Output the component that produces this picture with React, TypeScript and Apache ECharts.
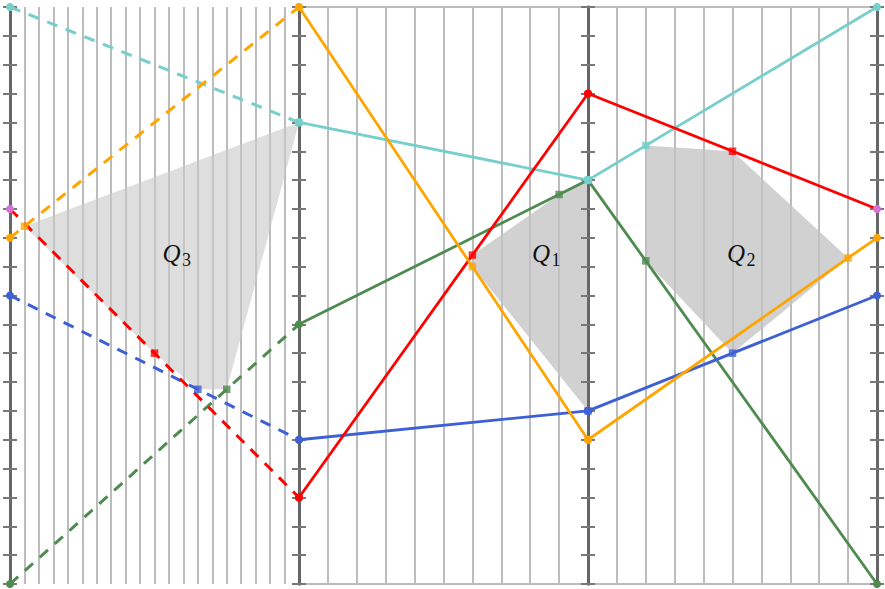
import { useEffect, useRef } from 'react';
import * as echarts from 'echarts';

// Values carried by each line on the four vertical axes (0 = bottom, 20 = top)
const axisMax = 20;
const tealValues = [20, 16, 14, 20];
const orangeValues = [12, 20, 5, 12];
const redValues = [13, 3, 17, 13];
const blueValues = [10, 5, 6, 10];
const greenValues = [0, 9, 14, 0];

// Vertical grid divisions between consecutive axes (left, middle, right panel)
const panelSteps = [20, 10, 10];

type LineKey = 'teal' | 'orange' | 'red' | 'blue' | 'green';

// Region corners: [grid division inside the panel, line the corner lies on]
const q3Vertices: [number, LineKey][] = [[1, 'orange'], [20, 'teal'], [15, 'green'], [13, 'blue'], [10, 'red']];
const q1Vertices: [number, LineKey][] = [[6, 'red'], [9, 'green'], [10, 'teal'], [10, 'blue'], [6, 'orange']];
const q2Vertices: [number, LineKey][] = [[2, 'teal'], [5, 'red'], [9, 'orange'], [5, 'blue'], [2, 'green']];
const regionVertices = [q3Vertices, q1Vertices, q2Vertices];
const regionSubscripts = ['3', '1', '2'];

const LINES: { key: LineKey; values: number[]; color: string; endColor: string }[] = [
  { key: 'green', values: greenValues, color: '#4f8a50', endColor: '#4f8a50' },
  { key: 'blue', values: blueValues, color: '#3d60d4', endColor: '#3d60d4' },
  { key: 'teal', values: tealValues, color: '#76cfcb', endColor: '#76cfcb' },
  { key: 'red', values: redValues, color: '#ff0000', endColor: '#d670d6' },
  { key: 'orange', values: orangeValues, color: '#ffa500', endColor: '#ffa500' },
];
const lineByKey = Object.fromEntries(LINES.map((l) => [l.key, l])) as Record<LineKey, (typeof LINES)[number]>;

const regionFills = ['rgba(202,202,202,0.62)', 'rgba(194,194,194,0.76)', 'rgba(194,194,194,0.76)'];

// layout
const W = 885;
const H = 589;
const LEFT = 10;
const TOP = 7;
const PANEL_W = 289;
const PLOT_H = 577;

const valueAt = (values: number[], panel: number, step: number) =>
  values[panel] + ((values[panel + 1] - values[panel]) * step) / panelSteps[panel];

function buildOption() {
  const grid: any[] = [];
  const xAxis: any[] = [];
  const yAxis: any[] = [];
  const series: any[] = [];

  // three panels carrying the grid lines and the lines
  panelSteps.forEach((steps, p) => {
    grid.push({ left: LEFT + PANEL_W * p, top: TOP, width: PANEL_W, height: PLOT_H, outerBoundsMode: 'none' });
    xAxis.push({
      gridIndex: p,
      type: 'value',
      min: 0,
      max: steps,
      interval: 1,
      axisLine: { show: false },
      axisTick: { show: false },
      axisLabel: { show: false },
      splitLine: { show: true, lineStyle: { color: '#bcbcbc', width: 2 } },
      z: 0,
    });
    yAxis.push({
      gridIndex: p,
      type: 'value',
      min: 0,
      max: axisMax,
      interval: axisMax,
      axisLine: { show: false },
      axisTick: { show: false },
      axisLabel: { show: false },
      splitLine: { show: p > 0, lineStyle: { color: '#bcbcbc', width: 2 } },
      z: 0,
    });
  });

  // four zero-width grids holding the dark vertical axes, ticked on both sides
  for (let k = 0; k < 4; k++) {
    const g = grid.length;
    grid.push({ left: LEFT + PANEL_W * k, top: TOP, width: 0, height: PLOT_H, outerBoundsMode: 'none' });
    xAxis.push({ gridIndex: g, type: 'value', min: 0, max: 1, show: false });
    (['left', 'right'] as const).forEach((pos) => {
      yAxis.push({
        gridIndex: g,
        position: pos,
        type: 'value',
        min: 0,
        max: axisMax,
        interval: 1,
        axisLine: { show: true, onZero: false, lineStyle: { color: '#666666', width: 3 } },
        axisTick: { show: true, inside: false, length: 7, lineStyle: { color: '#777777', width: 2 } },
        axisLabel: { show: false },
        splitLine: { show: false },
        z: 3,
      });
    });
  }

  // shaded regions
  regionVertices.forEach((verts, p) => {
    const pts = verts.map(([s, k]) => [s, valueAt(lineByKey[k].values, p, s)]);
    series.push({
      type: 'custom',
      coordinateSystem: 'cartesian2d',
      xAxisIndex: p,
      yAxisIndex: p,
      z: 1,
      silent: true,
      clip: false,
      data: [[0, 0]],
      renderItem: (_params: any, api: any) => ({
        type: 'polygon',
        shape: { points: pts.map((pt) => api.coord(pt)) },
        style: { fill: regionFills[p] },
      }),
    });
  });

  // the lines, dashed across the left panel
  panelSteps.forEach((steps, p) => {
    LINES.forEach((line) => {
      series.push({
        type: 'line',
        xAxisIndex: p,
        yAxisIndex: p,
        z: 4,
        silent: true,
        clip: false,
        symbol: 'circle',
        symbolSize: 8,
        showSymbol: true,
        lineStyle: { color: line.color, width: p === 0 ? 3 : 2.8, type: p === 0 ? [11, 9] : 'solid' },
        itemStyle: { color: line.color, borderWidth: 0 },
        data: [
          { value: [0, line.values[p]], itemStyle: { color: p === 0 ? line.endColor : line.color } },
          { value: [steps, line.values[p + 1]], itemStyle: { color: p === 2 ? line.endColor : line.color } },
        ],
      });
    });
  });

  // corner markers of the regions
  regionVertices.forEach((verts, p) => {
    series.push({
      type: 'scatter',
      xAxisIndex: p,
      yAxisIndex: p,
      z: 5,
      silent: true,
      clip: false,
      symbol: 'rect',
      symbolSize: 7.5,
      data: verts.map(([s, k]) => ({
        value: [s, valueAt(lineByKey[k].values, p, s)],
        itemStyle: { color: lineByKey[k].color },
      })),
    });
  });

  // region names Q₃, Q₁, Q₂
  const labelCenters = [171.5, 541, 736];
  const labelY = 253.5;
  const graphic = labelCenters.map((cx, i) => ({
    type: 'group',
    z: 10,
    children: [
      {
        type: 'text',
        x: cx,
        y: labelY,
        z: 10,
        style: {
          text: 'Q',
          fontFamily: '"Liberation Serif", "DejaVu Serif", serif',
          fontStyle: 'italic',
          fontSize: 25,
          fill: '#111111',
          align: 'center',
          verticalAlign: 'middle',
        },
      },
      {
        type: 'text',
        x: cx + 15,
        y: labelY + 6.5,
        z: 10,
        style: {
          text: regionSubscripts[i],
          fontFamily: '"Liberation Serif", "DejaVu Serif", serif',
          fontSize: 18,
          fill: '#111111',
          align: 'center',
          verticalAlign: 'middle',
        },
      },
    ],
  }));

  return {
    animation: false,
    backgroundColor: '#ffffff',
    grid,
    xAxis,
    yAxis,
    series,
    graphic,
  };
}

export default function App() {
  const ref = useRef<HTMLDivElement>(null);

  useEffect(() => {
    if (!ref.current) return;
    const chart = echarts.init(ref.current, null, { renderer: 'svg' });
    chart.setOption(buildOption() as any);
    return () => chart.dispose();
  }, []);

  return (
    <div
      ref={ref}
      style={{ position: 'fixed', left: 0, top: 0, width: W, height: H, background: '#ffffff' }}
    />
  );
}
